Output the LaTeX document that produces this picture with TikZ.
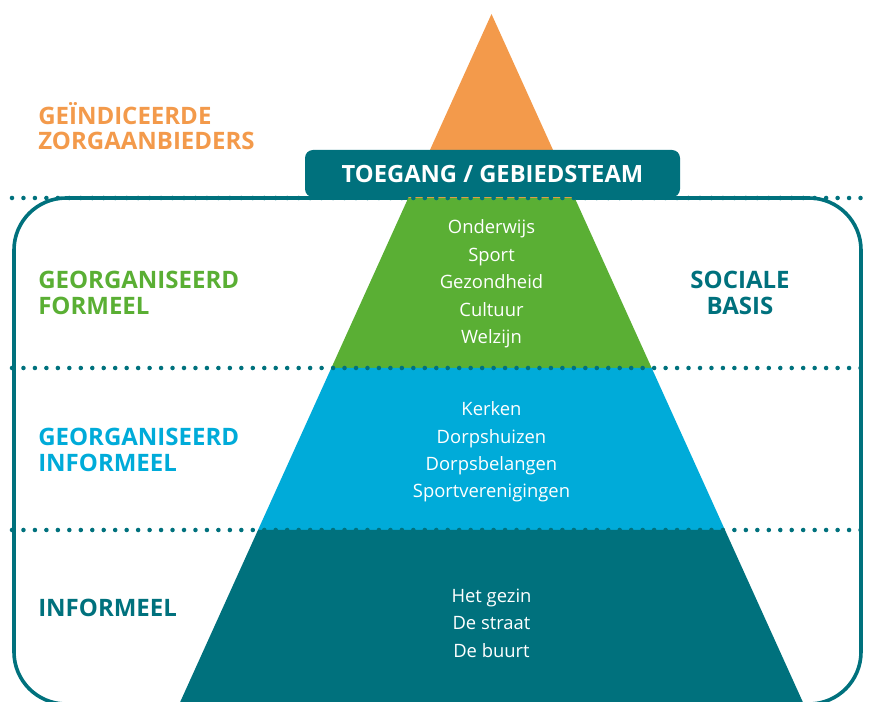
\documentclass[tikz,border=0pt]{standalone}
\usepackage{fontspec}
\setmainfont{Open Sans}
\usepackage{tikz}
\usetikzlibrary{calc}
\definecolor{zorgorange}{HTML}{F39A4B}
\definecolor{formgreen}{HTML}{5AAF34}
\definecolor{infblue}{HTML}{00ABD9}
\definecolor{basisteal}{HTML}{00717D}

\begin{document}
\begin{tikzpicture}[x=0.75pt,y=-0.75pt,
  levellabel/.style={font=\bfseries\fontsize{18}{19.2}\selectfont,align=left,anchor=west,inner sep=0pt},
  bandtext/.style={font=\fontsize{13.8}{20.6}\selectfont,align=center,text=white,inner sep=0pt},
  dotline/.style={draw=basisteal,line width=3.4pt,line cap=round,dash pattern=on 0pt off 8.6pt}]
  %\draw[help lines] (0,0) grid[step=50] (869,702);

  \useasboundingbox (0,0) rectangle (869,702);

  % sociale basis frame
  \draw[basisteal,line width=2.7pt,rounded corners=39pt] (14,198) rectangle (861,704);

  % pyramid bands
  \foreach \ya/\yb/\col in {14/198/zorgorange,198/368/formgreen,368/530/infblue,530/708/basisteal}{
    \pgfmathsetmacro{\wa}{0.4525*(\ya-14)}
    \pgfmathsetmacro{\wb}{0.4525*(\yb-14)}
    \fill[\col] (491.5-\wa,\ya) -- (491.5+\wa,\ya) -- (491.5+\wb,\yb) -- (491.5-\wb,\yb) -- cycle;
  }

  % dotted separators
  \foreach \y in {198,368,530}
    \draw[dotline] (12,\y) -- (866,\y);

  % toegang banner
  \fill[basisteal,rounded corners=6pt] (305,150) rectangle (680,197);
  \draw (492.5,174) node[font=\bfseries\fontsize{17.8}{20}\selectfont,text=white](toegang) {TOEGANG / GEBIEDSTEAM};

  % level labels
  \draw (38,126) node[levellabel,text=zorgorange](zorg)     {GEÏNDICEERDE\\ZORGAANBIEDERS};
  \draw (38,293) node[levellabel,text=formgreen](formeel)   {GEORGANISEERD\\FORMEEL};
  \draw (38,450) node[levellabel,text=infblue](orginformeel){GEORGANISEERD\\INFORMEEL};
  \draw (38,608) node[levellabel,text=basisteal](informeel) {INFORMEEL};
  \draw (740,293) node[levellabel,anchor=center,align=center,text=basisteal](basis) {SOCIALE\\BASIS};

  % band contents
  \draw (491.5,284) node[bandtext](formtxt) {Onderwijs\\Sport\\Gezondheid\\Cultuur\\Welzijn};
  \draw (491.5,452) node[bandtext](inftxt)  {Kerken\\Dorpshuizen\\Dorpsbelangen\\Sportverenigingen};
  \draw (491.5,623) node[bandtext](basistxt){Het gezin\\De straat\\De buurt};

\end{tikzpicture}
\end{document}
